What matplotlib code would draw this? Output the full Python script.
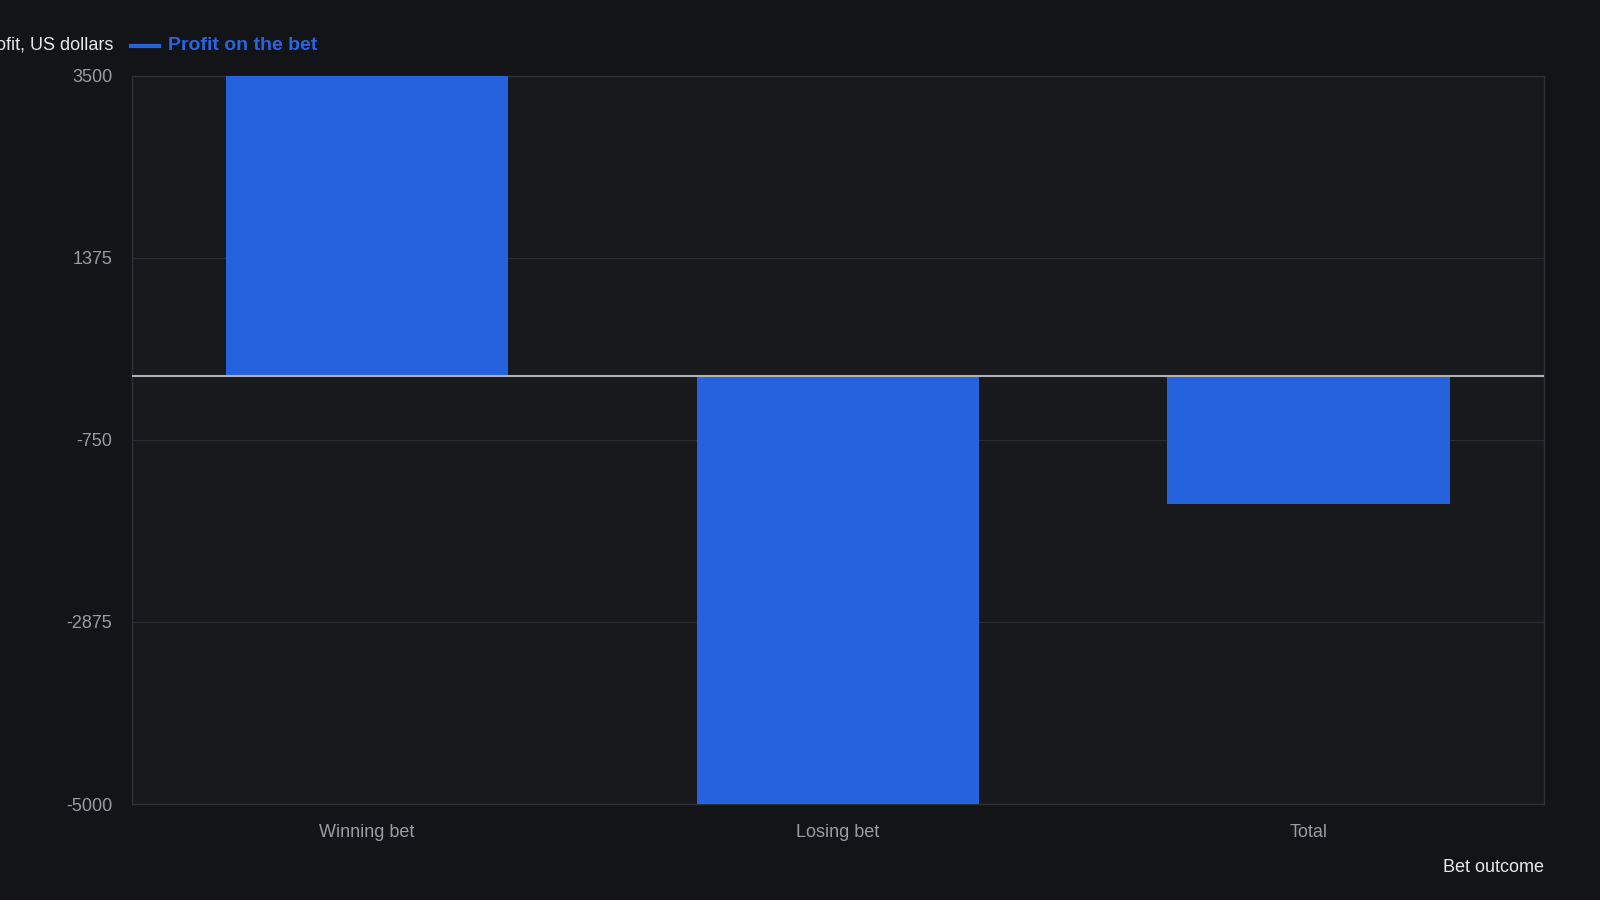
import matplotlib
matplotlib.use("Agg")
import matplotlib.pyplot as plt
from matplotlib.lines import Line2D

categories = ["Winning bet", "Losing bet", "Total"]
profit = [3500, -5000, -1500]
yticks = [3500, 1375, -750, -2875, -5000]

plt.rcParams['font.family'] = ['Liberation Sans', 'DejaVu Sans']
fig = plt.figure(figsize=(16, 9), dpi=100, facecolor='#121418')
ax = fig.add_axes([0.0823, 0.1066, 0.965 - 0.0823, 0.916 - 0.1066])
ax.set_facecolor('#17191d')
x = range(len(categories))
ax.bar(x, profit, width=0.6, color='#2562de', zorder=3)
ax.set_xlim(-0.5, 2.5)
ax.set_ylim(-5000, 3500)
ax.set_yticks(yticks)
ax.set_yticklabels([str(t) for t in yticks])
ax.set_xticks(list(x))
ax.set_xticklabels(categories)
ax.tick_params(colors='#9a9ca3', labelsize=13, length=0, pad=14)
ax.grid(axis='y', color='#2a2c31', linewidth=0.8, zorder=0)
ax.axhline(0, color='#b0b2b8', linewidth=1.5, zorder=4)
for s in ax.spines.values():
    s.set_color('#2e3035')
    s.set_linewidth(1)

fig.text(111/1568, 1 - 44/882, "Profit, US dollars", ha='right', va='center', color='#e8e8ea', fontsize=13)
fig.add_artist(Line2D([128/1568, 156/1568], [1 - 45/882]*2, color='#2562de', linewidth=3))
fig.text(165/1568, 1 - 45/882, "Profit on the bet", ha='left', va='center', color='#2a64e0', fontsize=14, fontweight='bold')
fig.text(1513/1568, 1 - 850/882, "Bet outcome", ha='right', va='center', color='#e8e8ea', fontsize=13)
fig.savefig("out.png", facecolor=fig.get_facecolor())
